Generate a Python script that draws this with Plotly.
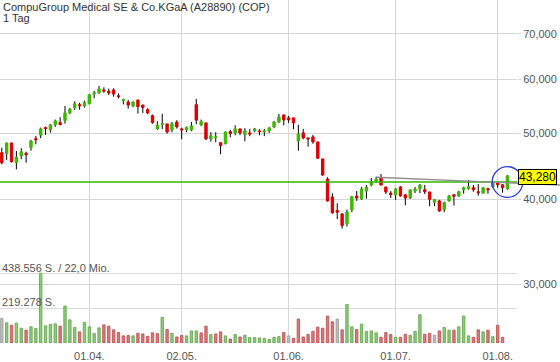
import math
import plotly.graph_objects as go

# ---------------- data ----------------
title_line1 = "CompuGroup Medical SE & Co.KGaA (A28890) (COP)"
title_line2 = "1 Tag"

dates = [
    "2022-03-08", "2022-03-09", "2022-03-10", "2022-03-11", "2022-03-14", "2022-03-15", "2022-03-16",
    "2022-03-17", "2022-03-18", "2022-03-21", "2022-03-22", "2022-03-23", "2022-03-24", "2022-03-25",
    "2022-03-28", "2022-03-29", "2022-03-30", "2022-03-31",
    "2022-04-01", "2022-04-04", "2022-04-05", "2022-04-06", "2022-04-07", "2022-04-08", "2022-04-11",
    "2022-04-12", "2022-04-13", "2022-04-14", "2022-04-19", "2022-04-20", "2022-04-21", "2022-04-22",
    "2022-04-25", "2022-04-26", "2022-04-27", "2022-04-28", "2022-04-29",
    "2022-05-02", "2022-05-03", "2022-05-04", "2022-05-05", "2022-05-06", "2022-05-09", "2022-05-10",
    "2022-05-11", "2022-05-12", "2022-05-13", "2022-05-16", "2022-05-17", "2022-05-18", "2022-05-19",
    "2022-05-20", "2022-05-23", "2022-05-24", "2022-05-25", "2022-05-26", "2022-05-27", "2022-05-30",
    "2022-05-31",
    "2022-06-01", "2022-06-02", "2022-06-03", "2022-06-06", "2022-06-07", "2022-06-08", "2022-06-09",
    "2022-06-10", "2022-06-13", "2022-06-14", "2022-06-15", "2022-06-16", "2022-06-17", "2022-06-20",
    "2022-06-21", "2022-06-22", "2022-06-23", "2022-06-24", "2022-06-27", "2022-06-28", "2022-06-29",
    "2022-06-30",
    "2022-07-01", "2022-07-04", "2022-07-05", "2022-07-06", "2022-07-07", "2022-07-08", "2022-07-11",
    "2022-07-12", "2022-07-13", "2022-07-14", "2022-07-15", "2022-07-18", "2022-07-19", "2022-07-20",
    "2022-07-21", "2022-07-22", "2022-07-25", "2022-07-26", "2022-07-27", "2022-07-28", "2022-07-29",
    "2022-08-01", "2022-08-02", "2022-08-03",
]

open_ = [
    46820, 46660, 48390, 45260, 46300, 46720, 47630, 49090, 49720, 50970,
    50580, 51440, 51840, 52200, 53570, 54480, 55080, 54850, 55270, 57110,
    57370, 57910, 57650, 57910, 56790, 55840, 55590, 54850, 55970, 55030,
    54170, 53090, 50750, 51490, 51610, 50580, 51960, 50750, 50580, 50580,
    55080, 51440, 51790, 49060, 49270, 48440, 48270, 50290, 50060, 50750,
    49770, 50060, 50410, 50410, 50230, 50410, 51090, 51960, 53210, 52680,
    52680, 48720, 50060, 49220, 49390, 48550, 45840, 42830, 40300, 38480,
    38050, 36820, 38570, 40430, 40030, 41120, 41960, 42540, 42980, 41680,
    40840, 40570, 41680, 40570, 40160, 41120, 41400, 41300, 40980, 39590,
    39760, 38610, 39760, 40610, 40430, 41300, 41440, 41580, 41020, 40840,
    41440, 41720, 42290, 42000, 41440,
]
high = [
    47620, 48450, 48420, 47090, 47530, 46980, 48890, 49560, 50970, 51150,
    51610, 52380, 52800, 54850, 54480, 55720, 55460, 55840, 57110, 57710,
    58700, 58440, 58160, 58240, 57250, 56220, 55970, 55720, 56000, 55060,
    54430, 53270, 52090, 53390, 51640, 51960, 52270, 50970, 51150, 51960,
    56160, 52380, 51820, 50180, 50180, 48470, 50290, 50580, 51390, 50780,
    50870, 50750, 50920, 50700, 50750, 51090, 52140, 53390, 53240, 53030,
    52710, 51440, 50750, 49250, 49720, 48580, 45870, 43080, 40800, 39450,
    38140, 38610, 40430, 41120, 41680, 41960, 42980, 43170, 43560, 41710,
    41120, 41540, 41820, 40700, 41360, 41680, 42100, 41960, 41010, 40030,
    39900, 39670, 40570, 40640, 41160, 41720, 42680, 41960, 42100, 41610,
    41580, 42420, 42320, 42030, 43410,
]
low = [
    45015, 45680, 45260, 44265, 45790, 45260, 47140, 48170, 49170, 49720,
    50110, 51090, 51390, 51660, 53340, 54120, 54170, 54540, 55150, 56290,
    57110, 57370, 56920, 56600, 56290, 55150, 54350, 54610, 53450, 53570,
    53340, 51660, 50580, 50700, 49940, 50180, 50800, 49000, 50180, 50350,
    51560, 51270, 48890, 48610, 48500, 46560, 48170, 49340, 49670, 49670,
    48670, 49510, 50180, 49670, 49510, 50060, 50870, 51790, 51390, 51790,
    50700, 47140, 49000, 47790, 48270, 45880, 43310, 39670, 38090, 37380,
    36200, 36450, 38270, 39760, 39900, 40070, 41780, 42290, 41930, 40700,
    40160, 39900, 40340, 39190, 40030, 40840, 40840, 40700, 39060, 39060,
    38310, 38270, 39670, 39140, 40300, 40740, 41300, 41020, 40470, 40740,
    40740, 41540, 41580, 40880, 41300,
]
close = [
    45260, 48390, 45420, 46100, 46980, 46500, 48720, 48920, 50750, 50800,
    51440, 52140, 51490, 53570, 54250, 55270, 54900, 55460, 56980, 57370,
    58110, 57710, 57310, 57110, 56600, 56030, 55030, 55590, 54720, 54540,
    53570, 51840, 51390, 51660, 50230, 51660, 51090, 50580, 50970, 51270,
    52270, 52020, 49060, 49610, 49390, 47950, 50230, 49940, 50750, 50060,
    50410, 49890, 50750, 50290, 50410, 50920, 51960, 52860, 52320, 52320,
    51790, 49890, 49220, 49060, 48550, 45950, 43410, 39760, 38180, 38270,
    36570, 38310, 40300, 40160, 41400, 41680, 42390, 42830, 41960, 40980,
    40610, 41400, 40430, 40160, 41260, 41400, 41960, 41020, 39990, 39940,
    38440, 39530, 40430, 40400, 41020, 41580, 41720, 41300, 40880, 41580,
    41300, 42390, 42000, 41580, 43280,
]
volume = [
    155000, 127000, 112000, 125000, 93000, 81000, 102000, 91000, 438556, 108000,
    117000, 121000, 106000, 233000, 146000, 98000, 70000, 129000, 102000, 59000,
    95000, 114000, 106000, 83000, 66000, 45000, 47000, 45000, 61000, 57000,
    42000, 64000, 59000, 161000, 85000, 61000, 38000, 47000, 45000, 76000,
    76000, 64000, 106000, 53000, 57000, 70000, 45000, 25000, 53000, 38000,
    49000, 34000, 34000, 32000, 30000, 23000, 36000, 40000, 66000, 45000,
    30000, 151000, 38000, 53000, 74000, 100000, 93000, 170000, 134000, 151000,
    83000, 242000, 102000, 85000, 119000, 72000, 76000, 64000, 36000, 66000,
    53000, 36000, 36000, 55000, 49000, 74000, 178000, 55000, 61000, 49000,
    76000, 98000, 81000, 81000, 102000, 170000, 45000, 36000, 83000, 70000,
    81000, 40000, 112000, 36000, None,
]
# volume bar direction per day: u = up, d = down, n = unchanged
vol_dir_rows = [
    "nuduuduuuu",
    "uuduuuduuu",
    "uddddddudd",
    "dddududduu",
    "udduddudud",
    "uuuuuuuudn",
    "dddddddddn",
    "duuduuuudd",
    "dudduuuddn",
    "duuduuuddu",
    "duddn",
]
vol_dir = list("".join(vol_dir_rows))

tick_dates = ["2022-04-01", "2022-05-02", "2022-06-01", "2022-07-01", "2022-08-01"]
tick_labels = ["01.04.", "02.05.", "01.06.", "01.07.", "01.08."]
price_ticks = [30000, 40000, 50000, 60000, 70000]
price_tick_labels = ["30,000", "40,000", "50,000", "60,000", "70,000"]
vol_ticks = [219278, 438556]
vol_tick_labels = ["219.278 S.", "438.556 S. / 22,0 Mio."]

support_level = 42390
trend_start = ("2022-06-27", 43080)
trend_end = ("2022-08-03", 42280)

# ---------------- layout constants ----------------
W, H = 560, 362
ML, MR, MT, MB = 0, 43, 0, 19
PW = W - ML - MR
PH = H - MT - MB
X_RANGE = [-0.37, 105.97]
Y_RANGE = [4.3904, 4.8951]          # log10 of price
VOL_FRAC = 0.203                    # fraction of plot height used by the max volume

FONT = "Liberation Sans, Arial, sans-serif"
GREEN = "#3cb800"
RED = "#dd0000"
GRID = "#d6d6d6"
TXT = "#555555"

idx = {d: i for i, d in enumerate(dates)}


def xpaper(i):
    return (i - X_RANGE[0]) / (X_RANGE[1] - X_RANGE[0])


def ypaper(p):
    return (math.log10(p) - Y_RANGE[0]) / (Y_RANGE[1] - Y_RANGE[0])


# ---------------- traces ----------------
wx, wy = [], []
for d, h, l in zip(dates, high, low):
    wx += [d, d, None]
    wy += [l, h, None]

wicks = go.Scatter(
    x=wx, y=wy, mode="lines", line=dict(color="#000000", width=1),
    hoverinfo="skip", showlegend=False, yaxis="y",
)

vol_fill = {"u": "#8ccb78", "d": "#d97a7a", "n": "#bdbdbd"}
vol_line = {"u": "#5fa24a", "d": "#bb4a4a", "n": "#9a9a9a"}
vols = go.Bar(
    x=dates, y=volume, yaxis="y2", width=0.5,
    marker=dict(color=[vol_fill[c] for c in vol_dir],
                line=dict(color=[vol_line[c] for c in vol_dir], width=0.8)),
    showlegend=False, hoverinfo="skip",
)

bodies = go.Candlestick(
    x=dates, open=open_, close=close,
    high=[max(o, c) for o, c in zip(open_, close)],
    low=[min(o, c) for o, c in zip(open_, close)],
    increasing=dict(fillcolor=GREEN, line=dict(color=GREEN, width=1)),
    decreasing=dict(fillcolor=RED, line=dict(color=RED, width=1)),
    whiskerwidth=0, yaxis="y3", showlegend=False, hoverinfo="skip",
)

fig = go.Figure([wicks, vols, bodies])

# ---------------- shapes ----------------
shapes = []
# support line
shapes.append(dict(type="line", xref="paper", x0=0, x1=1, yref="paper",
                   y0=ypaper(support_level), y1=ypaper(support_level),
                   line=dict(color="#33b400", width=1.3), layer="above"))
# trend line extended to the right edge of the figure
i0, p0 = idx[trend_start[0]], trend_start[1]
i1, p1 = idx[trend_end[0]], trend_end[1]
x_end_paper = (W - ML) / PW
i_end = X_RANGE[0] + x_end_paper * (X_RANGE[1] - X_RANGE[0])
lp_end = math.log10(p0) + (math.log10(p1) - math.log10(p0)) * (i_end - i0) / (i1 - i0)
shapes.append(dict(type="line", xref="paper", yref="paper",
                   x0=xpaper(i0), y0=ypaper(p0), x1=x_end_paper,
                   y1=(lp_end - Y_RANGE[0]) / (Y_RANGE[1] - Y_RANGE[0]),
                   line=dict(color="#8f8f8f", width=1.4), layer="above"))
# blue circle around the last candle at the support level
r = 15.3
shapes.append(dict(type="circle", xref="paper", yref="paper",
                   xsizemode="pixel", ysizemode="pixel",
                   xanchor=xpaper(len(dates) - 1), yanchor=ypaper(support_level),
                   x0=-r, x1=r, y0=-r, y1=r,
                   line=dict(color="#2a3de0", width=1.3), layer="above"))

# ---------------- annotations ----------------
ann = [
    dict(text=title_line1, xref="paper", yref="paper", x=0, y=1, xanchor="left",
         yanchor="top", xshift=1, yshift=1, showarrow=False,
         font=dict(family=FONT, size=11, color="#333333")),
    dict(text=title_line2, xref="paper", yref="paper", x=0, y=1, xanchor="left",
         yanchor="top", xshift=1, yshift=-10, showarrow=False,
         font=dict(family=FONT, size=11, color="#333333")),
    dict(text=vol_tick_labels[1], xref="paper", yref="y2", x=0, y=vol_ticks[1],
         xanchor="left", yanchor="bottom", yshift=-3, showarrow=False,
         font=dict(family=FONT, size=11, color=TXT)),
    dict(text=vol_tick_labels[0], xref="paper", yref="y2", x=0, y=vol_ticks[0],
         xanchor="left", yanchor="bottom", yshift=-2, showarrow=False,
         font=dict(family=FONT, size=11, color=TXT)),
    dict(text=f"{close[-1]:,.0f}", xref="paper", yref="y", x=1,
         y=math.log10(close[-1]), xanchor="left", yanchor="middle", xshift=1, yshift=-1,
         showarrow=False, bgcolor="#ffff00", bordercolor="#000000", borderwidth=1,
         borderpad=0, font=dict(family=FONT, size=12, color="#000000")),
]

fig.update_layout(
    width=W, height=H,
    margin=dict(l=ML, r=MR, t=MT, b=MB, pad=0),
    paper_bgcolor="white", plot_bgcolor="white",
    showlegend=False, shapes=shapes, annotations=ann,
    font=dict(family=FONT, size=11, color=TXT),
    xaxis=dict(type="category", categoryorder="array", categoryarray=dates,
               range=X_RANGE, tickvals=tick_dates, ticktext=tick_labels,
               showgrid=True, gridcolor=GRID, gridwidth=1, zeroline=False,
               showline=False, ticks="outside", ticklen=3, tickcolor="rgba(0,0,0,0)",
               tickfont=dict(family=FONT, size=11, color=TXT),
               rangeslider=dict(visible=False), fixedrange=True),
    yaxis=dict(type="log", range=Y_RANGE, side="right", tickvals=price_ticks,
               ticktext=price_tick_labels, showgrid=True, gridcolor=GRID, gridwidth=1,
               zeroline=False, showline=False, ticks="outside", ticklen=3, tickcolor=GRID,
               tickfont=dict(family=FONT, size=11, color=TXT), fixedrange=True),
    yaxis2=dict(overlaying="y", side="left", range=[0, max(v for v in volume if v) / VOL_FRAC],
                tickvals=vol_ticks, showticklabels=False, showgrid=True, gridcolor="#dcdcdc",
                gridwidth=1, zeroline=False, showline=False, ticks="", fixedrange=True),
    yaxis3=dict(overlaying="y", type="log", range=Y_RANGE, visible=False, fixedrange=True),
)

fig.write_html(
    "out.html",
    config={"displayModeBar": False},
    post_script="document.body.style.margin='0px';document.body.style.overflow='hidden';",
)
